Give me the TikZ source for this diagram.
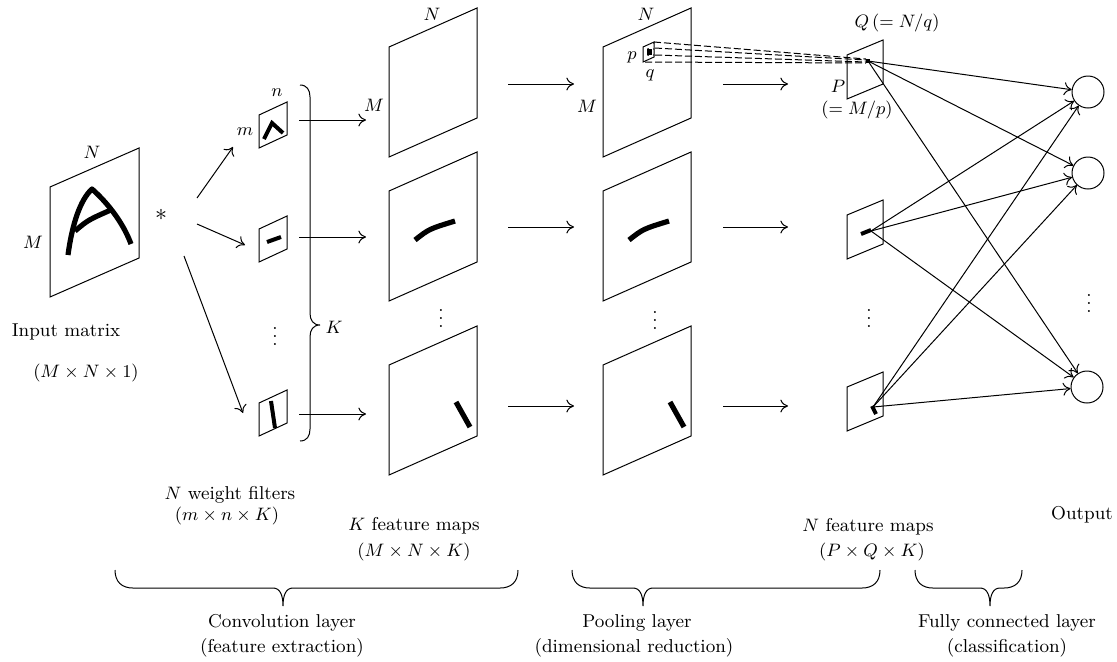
\documentclass[tikz,border=0pt]{standalone}
\usepackage{amsmath,amssymb}
\usetikzlibrary{arrows.meta,patterns}

\tikzset{
    ink/.style={line width=2.6pt},
    thinink/.style={line width=2pt},
    window/.style={dash pattern=on 3.5pt off 1.5pt},
    neuron/.style={draw, circle, minimum size=16pt, inner sep=0pt},
    lbl/.style={inner sep=1pt, font=\fontsize{9.3}{11}\selectfont},
    >={To[length=3.8pt,width=6.5pt]}
}

\begin{document}
\begin{tikzpicture}[x=0.5pt, y=-0.5pt, line width=0.5pt, every node/.style={lbl}]
    \useasboundingbox (0,0) rectangle (1117,661);

    % Input matrix
    \draw (50,187) -- (139,148) -- (139,258) -- (50,297) -- cycle;
    \draw[ink, line join=round] (68,255) .. controls (72,225) and (80,200) .. (92,189)
        .. controls (110,205) and (124,225) .. (131,244);
    \draw[ink] (75,231) .. controls (88,220) .. (113,209);
    \node (inN) at (92,152) {$N$};
    \node (inM) at (33,242) {$M$};
    \node[font=\fontsize{13}{13}\selectfont] (star) at (161,215) {$*$};
    \node (inlbl) at (66,332) {Input matrix};
    \node (indim) at (86,373) {$(M\times N\times 1)$};

    % Weight filters
    \foreach \y in {115,229,403}
        \draw (259,\y) -- (287,\y-13) -- (287,\y+20) -- (259,\y+33) -- cycle;
    \draw[thinink] (264,139) -- (272,123) -- (283,133);
    \draw[thinink] (267,242) -- (281,237);
    \draw[thinink] (271,401) -- (275,428);
    \node (fn) at (277,93) {$n$};
    \node (fm) at (245,132) {$m$};
    \node (fdots) at (275,330) {$\vdots$};

    \coordinate (s1) at (197,198); \coordinate (f1) at (233,147);
    \coordinate (s2) at (197,224); \coordinate (f2) at (245,245);
    \coordinate (s3) at (184,256); \coordinate (f3) at (243,413);
    \foreach \i in {1,2,3}
        \draw[->] (s\i) -- (f\i);

    % K brace
    \draw (300,85) .. controls (307,85) and (310,90) .. (310,97) -- (310,313)
        .. controls (310,320) and (313,325) .. (320,325)
        .. controls (313,325) and (310,330) .. (310,337) -- (310,429)
        .. controls (310,436) and (307,441) .. (300,441);
    \node (kb) at (334,327) {$K$};

    % Feature maps and pooling inputs
    \foreach \x in {389,603}{
        \foreach \y in {47,191,365}
            \draw (\x,\y) -- (\x+88,\y-39) -- (\x+88,\y+71) -- (\x,\y+110) -- cycle;
        \draw[ink] (\x+26,240) .. controls (\x+40,229) .. (\x+66,221);
        \draw[ink] (\x+67,402) -- (\x+81,427);
    }
    \node (cN) at (432,14) {$N$};
    \node (cM) at (374,105) {$M$};
    \node (cdots) at (441,312) {$\vdots$};
    \node (pN) at (646,14) {$N$};
    \node (pM) at (587,106) {$M$};
    \node (pp) at (632,57) {$p$};
    \node (pq) at (650,75) {$q$};
    \node (pdots) at (655,314) {$\vdots$};

    \foreach \r/\ya/\yb in {1/120/84, 2/237/227, 3/414/406}{
        \coordinate (fo\r) at (299,\ya);
        \coordinate (ci\r) at (366,\ya);
        \coordinate (co\r) at (508,\yb);
        \coordinate (pi\r) at (574,\yb);
        \coordinate (po\r) at (723,\yb);
        \coordinate (qi\r) at (788,\yb);
        \draw[->] (fo\r) -- (ci\r);
        \draw[->] (co\r) -- (pi\r);
        \draw[->] (po\r) -- (qi\r);
    }

    % Pooled maps
    \foreach \y in {55,215,387}
        \draw (847,\y) -- (883,\y-15) -- (883,\y+29) -- (847,\y+44) -- cycle;
    \draw[pattern=dots] (643,47) -- (654,42) -- (654,57) -- (643,62) -- cycle;
    \fill (647,49) rectangle (652,55);
    \coordinate (p1) at (868,61);
    \fill (866,59) rectangle (870,63);
    \draw[window] (654,42) -- (866,59);
    \draw[window] (655,48) -- (866,60);
    \draw[window] (655,55) -- (866,62);
    \draw[window] (645,62) -- (866,63);
    \draw[thinink] (861,234) -- (871,230);
    \coordinate (p2) at (871,231);
    \draw[thinink] (872,406) -- (876,414);
    \coordinate (p3) at (873,407);
    \node (qQ) at (897,23) {$Q\,(= N/q)$};
    \node (qP) at (838,86) {$P$};
    \node (qPd) at (857,110) {$(= M/p)$};
    \node (qdots) at (869,312) {$\vdots$};

    % Output layer
    \node[neuron] (o1) at (1088,92) {};
    \node[neuron] (o2) at (1088,173) {};
    \node[neuron] (o3) at (1087,387) {};
    \node (odots) at (1089,297) {$\vdots$};
    \foreach \i in {1,2,3}
        \foreach \j in {1,2,3}
            \draw[->] (p\i) -- (o\j);

    % Bottom labels
    \node (wf) at (230,495) {$N$ weight filters};
    \node (wfd) at (227,516) {$(m\times n\times K)$};
    \node (kf) at (414,526) {$K$ feature maps};
    \node (kfd) at (414,552) {$(M\times N\times K)$};
    \node (nf) at (868,527) {$N$ feature maps};
    \node (nfd) at (872,552) {$(P\times Q\times K)$};
    \node (out) at (1082,515) {Output};

    \foreach \a/\t/\b in {115/283/518, 572/643/880, 915/990/1022}
        \draw (\a,570) .. controls (\a,582) and (\a+7,588) .. (\a+18,588) -- (\t-10,588)
            .. controls (\t-3,588) and (\t,595) .. (\t,606)
            .. controls (\t,595) and (\t+3,588) .. (\t+10,588) -- (\b-18,588)
            .. controls (\b-7,588) and (\b,582) .. (\b,570);

    \node (conv) at (282,623) {Convolution layer};
    \node (convd) at (282,648) {(feature extraction)};
    \node (pool) at (637,623) {Pooling layer};
    \node (poold) at (634,648) {(dimensional reduction)};
    \node (fc) at (1007,623) {Fully connected layer};
    \node (fcd) at (1007,648) {(classification)};

\end{tikzpicture}
\end{document}
